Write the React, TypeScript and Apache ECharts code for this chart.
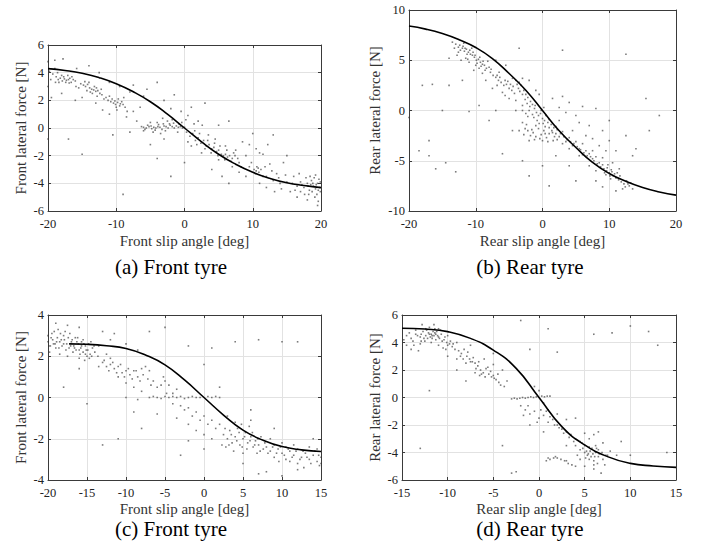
import React, { useEffect, useRef } from "react";
import * as echarts from "echarts";

// ---------- data ----------
const curveA: number[][] = [[-20,4.29],[-17.5,4.16],[-15,3.96],[-12.5,3.64],[-10,3.2],[-7.5,2.62],[-5,1.9],[-2.5,1.0],[0,0],[2.5,-1.0],[5,-1.9],[7.5,-2.62],[10,-3.2],[12.5,-3.64],[15,-3.96],[17.5,-4.16],[20,-4.31]];
const curveB: number[][] = [[-20,8.4],[-17.5,8.1],[-15,7.66],[-12.5,7.05],[-10,6.27],[-7.5,5.17],[-5,3.68],[-2.5,2.02],[0,0],[2.5,-2.02],[5,-3.68],[7.5,-5.17],[10,-6.27],[12.5,-7.05],[15,-7.66],[17.5,-8.1],[20,-8.42]];
const curveC: number[][] = [[-17.3,2.6],[-15,2.58],[-12.5,2.51],[-10,2.38],[-7.5,2.06],[-5,1.58],[-2.5,0.85],[0,0],[2.5,-0.85],[5,-1.58],[7.5,-2.06],[10,-2.38],[12.5,-2.54],[15,-2.62]];
const curveD: number[][] = [[-15,5.04],[-12.5,4.98],[-10,4.79],[-7.5,4.3],[-5,3.45],[-2.5,2.12],[0,0],[2.5,-2.12],[5,-3.45],[7.5,-4.3],[10,-4.79],[12.5,-4.98],[15,-5.08]];

const scatterA: number[][] = [
[-18.8,3.7],[-18.5,3.5],[-18.2,3.6],[-17.9,3.4],[-17.6,3.55],[-17.3,3.45],[-17.0,3.5],[-16.8,3.6],[-16.5,3.7],[-16.3,3.5],[-17.4,3.3],[-18.0,3.8],[-16.9,3.25],[-19.3,3.9],[-19.6,3.5],[-18.6,4.0],
[-18.4,3.3],[-17.7,3.7],[-17.1,3.8],[-16.6,3.3],[-18.9,3.3],[-19.8,4.1],[-19.0,4.3],[-16.0,3.4],[-15.9,3.0],
[-15.2,3.2],[-14.8,3.1],[-14.5,3.0],[-14.2,3.15],[-13.9,2.9],[-13.6,2.8],[-13.3,2.75],[-13.0,2.65],[-12.7,2.7],[-12.4,2.5],[-14.0,3.3],[-13.5,2.5],[-15.5,2.9],[-12.1,2.4],[-12.8,2.3],
[-14.6,3.35],[-13.8,2.6],[-13.2,3.0],[-12.9,2.9],[-12.2,2.8],[-11.8,2.1],[-14.3,2.7],
[-11.5,2.2],[-11.2,2.0],[-10.8,1.9],[-10.4,1.8],[-10.1,1.7],[-9.8,1.85],[-9.5,1.6],[-9.2,1.9],[-10.0,1.5],[-9.0,1.7],[-11.0,2.3],[-8.7,1.5],[-9.7,2.1],
[-10.6,2.1],[-10.2,1.95],[-9.4,1.75],[-9.9,1.3],[-8.9,2.2],[-8.4,1.2],
[-20,4.8],[-19,4.9],[-17.8,5.0],[-15.8,4.3],[-14.0,4.5],[-12.5,4.0],[-11.0,3.3],[-9.5,3.0],[-8.0,2.6],[-7.5,3.1],[-6.0,2.3],[-5.5,2.8],[-4.0,3.3],[-3.0,2.0],[-2.0,1.4],[-1.5,2.4],[-0.5,1.2],[0.5,0.9],[1.0,1.5],[2.0,0.5],[3.0,1.8],[1.5,-0.2],
[-20,3.0],[-19.5,2.2],[-18.0,2.5],[-16.0,2.0],[-15.0,2.2],[-13.0,1.8],[-12.0,1.3],[-11.0,1.0],[-8.5,0.8],[-7.5,1.2],[-7.0,0.5],[-6.5,1.5],[-20,-0.8],[-17,-0.8],[-15,-1.9],[-10.5,-0.5],[-8.0,-0.3],[-9,-4.8],[-5,-1.2],[-4,-2.2],[-2,-3.5],[0,-2.5],[-3.0,-0.8],[-6,-0.2],
[-6.0,0.05],[-5.6,0.0],[-5.2,0.1],[-4.8,-0.05],[-4.5,0.05],[-4.2,0.0],[-3.9,0.1],[-3.6,0.05],[-3.3,-0.1],[-3.0,0.15],[-2.7,0.1],[-2.4,0.0],[-2.1,0.2],[-1.8,0.1],[-1.5,0.0],[-1.2,0.15],[-0.9,0.05],[-0.6,0.1],[-0.3,0.0],[0.0,0.05],[-4.0,0.4],[-3.5,-0.4],[-2.5,0.5],[-1.0,-0.3],[-5.0,0.4],[-3.2,0.7],[-1.8,0.6],[-4.6,-0.3],
[-5.8,-0.1],[-5.4,0.2],[-4.9,0.15],[-4.3,-0.15],[-3.8,0.25],[-3.1,0.3],[-2.8,-0.2],[-2.2,0.3],[-1.6,0.35],[-0.8,0.3],[-0.4,0.4],[0.2,0.6],[-6.3,0.1],
[0.3,-0.3],[0.8,-0.6],[1.2,-0.4],[1.6,-0.9],[2.0,-0.7],[2.4,-1.1],[2.8,-0.9],[3.2,-1.3],[3.6,-1.2],[4.0,-1.5],[4.3,-1.4],[4.7,-1.7],[5.0,-1.6],[5.4,-1.9],[5.7,-2.0],[6.0,-1.9],[6.3,-2.1],[6.6,-2.0],[7.0,-2.2],[7.4,-2.0],[3.5,-0.5],[4.5,-0.8],[5.0,-2.3],[2.5,-1.8],[1.0,-1.3],[6.0,-1.3],[7.5,-1.6],[8.0,-2.5],
[1.8,-1.2],[2.2,-0.4],[3.0,-1.5],[3.4,-0.9],[3.9,-1.8],[4.4,-1.1],[4.9,-2.0],[5.2,-1.3],[5.9,-2.3],[6.2,-1.6],[6.8,-2.4],[7.2,-1.8],[7.8,-2.2],[8.3,-2.8],[0.5,-1.0],[1.4,0.3],[2.6,0.2],
[8.5,-1.0],[9.0,-2.0],[9.5,-2.8],[10.2,-3.0],[10.5,-3.1],[10.8,-2.9],[11.2,-3.0],[10.6,-2.8],[11.0,-1.8],[11.5,-1.9],[12.0,-3.5],[12.5,-2.6],[13.0,-3.8],[13.5,-3.3],[14.0,-4.0],[14.5,-2.5],[15.0,-3.9],[15.5,-4.6],[16.0,-3.5],[16.5,-4.2],[17.0,-3.9],[12.0,-4.3],[11.0,-4.0],[9.0,-3.5],[8.0,-3.2],[7.0,-2.8],[10.0,-0.4],[5.5,-3.5],[6.5,-4.0],[4.0,-3.0],[13.0,-0.5],[15.0,-2.0],[16.5,-5.0],[6.5,0.5],[5.0,0.2],[10.5,-1.5],
[10.4,-3.3],[10.9,-3.2],[9.8,-2.5],[11.8,-2.8],[12.8,-3.1],[13.8,-3.6],[14.8,-3.4],[15.8,-4.0],[16.2,-4.5],[17.0,-4.6],[16.8,-3.3],[14.2,-4.4],[13.2,-4.6],[11.5,-3.5],[9.5,-1.2],[12.2,-1.2],
[17.5,-4.3],[18.0,-4.0],[18.3,-4.5],[18.6,-3.8],[18.9,-4.2],[19.2,-4.4],[19.5,-4.0],[19.8,-4.3],[19.0,-3.6],[19.4,-4.8],[19.7,-3.7],[18.2,-4.8],[17.8,-3.6],[19.1,-5.0],[19.9,-4.6],[18.7,-4.6],[17.2,-4.1],[19.6,-5.3],
[18.1,-4.2],[18.5,-4.1],[18.8,-4.0],[19.3,-4.1],[19.6,-4.5],[19.9,-3.9],[18.4,-3.5],[19.2,-3.4],[17.6,-4.8],[19.5,-5.6],[18.0,-5.2]
];

const scatterB: number[][] = [
[-13.0,6.6],[-12.6,6.3],[-12.3,6.0],[-12.0,6.2],[-11.7,5.9],[-11.4,6.1],[-11.1,5.8],[-10.8,5.6],[-10.5,5.5],[-10.2,5.3],[-9.9,5.0],[-9.6,5.1],[-9.3,4.8],[-9.0,4.6],[-8.7,4.5],[-8.4,4.2],[-12.8,5.5],[-11.5,5.2],[-10.0,4.5],[-11.8,6.7],[-10.6,6.2],[-9.5,4.2],[-8.2,4.9],[-13.5,6.8],[-12.2,5.0],[-11.0,4.8],[-10.3,4.0],[-9.0,3.7],
[-12.4,6.5],[-11.9,6.4],[-11.6,6.2],[-11.3,5.6],[-10.9,6.0],[-10.4,5.8],[-10.1,5.5],[-9.8,4.7],[-9.4,5.3],[-9.2,4.4],[-8.9,4.9],[-8.6,4.0],[-8.0,4.3],[-7.7,4.1],[-12.6,5.8],[-11.2,5.1],[-13.2,6.2],
[-7.8,3.8],[-7.4,3.5],[-7.0,3.3],[-6.6,3.0],[-6.2,2.8],[-5.8,2.5],[-5.4,2.6],[-5.0,2.2],[-4.6,2.0],[-4.2,1.7],[-3.8,2.6],[-3.5,2.8],[-3.2,2.5],[-2.8,2.0],[-2.5,1.6],[-2.2,1.3],[-1.8,0.9],[-1.5,0.6],[-6.0,1.8],[-5.0,1.2],[-4.0,1.0],[-3.0,0.5],[-7.5,2.2],[-8.5,3.0],[-6.5,3.8],[-4.5,3.2],[-2.0,3.0],[-1.0,2.0],[-0.5,1.6],
[-6.8,3.5],[-6.4,3.3],[-5.6,3.0],[-5.2,2.9],[-4.8,2.6],[-4.4,2.4],[-3.6,2.2],[-3.4,1.9],[-3.0,1.6],[-2.6,1.1],[-2.3,0.7],[-1.9,0.4],[-4.0,3.0],[-3.0,3.2],[-6.8,2.5],[-5.6,1.5],
[-1.2,0.2],[-0.9,-0.2],[-0.6,-0.5],[-0.3,-0.3],[0.0,-0.8],[0.3,-1.0],[-1.5,-0.4],[-0.8,-1.0],[0.5,-0.5],[-2.0,0.0],[-3.0,0.0],[-4.0,0.0],[-2.5,-0.3],[0.2,0.3],[1.0,-0.9],
[-1.3,-0.7],[-0.5,-1.3],[0.1,-1.3],[0.4,-1.6],[0.8,-1.2],[-1.1,0.5],[-0.2,0.0],[-2.2,-0.6],
[-3.0,-1.2],[-2.6,-1.8],[-2.2,-2.0],[-1.8,-2.5],[-1.4,-2.2],[-1.0,-2.6],[-0.6,-1.8],[-0.2,-2.4],[0.2,-2.0],[0.6,-2.7],[1.0,-2.3],[1.4,-2.0],[1.8,-2.6],[2.2,-2.9],[-2.0,-3.0],[-1.0,-1.5],[0.0,-3.0],[-3.5,-2.0],
[-2.8,-2.4],[-2.4,-1.4],[-1.6,-1.9],[-1.2,-2.9],[-0.4,-2.8],[0.4,-2.3],[0.8,-3.1],[1.6,-3.0],[2.0,-2.3],
[1.3,-1.4],[1.7,-1.7],[2.2,-1.9],[2.7,-2.3],[3.2,-2.6],[3.7,-2.9],[4.2,-3.1],[4.7,-3.3],[5.2,-3.6],[5.7,-3.9],[6.2,-4.2],[6.7,-4.5],[7.2,-4.6],[7.7,-5.0],[8.2,-5.3],[8.7,-5.6],[9.2,-5.8],[9.6,-6.0],[10.0,-6.2],[10.3,-5.9],[10.6,-6.5],[11.0,-6.7],[11.4,-6.9],[11.8,-7.1],[12.2,-7.3],[12.6,-7.0],[13.0,-7.5],[13.5,-7.8],[9.8,-5.4],[10.2,-6.8],[9.5,-6.4],[11.2,-6.2],[12.0,-7.8],[3.0,-3.3],[4.0,-3.8],[5.5,-4.5],[7.0,-5.5],[8.0,-6.0],[6.0,-3.3],[7.5,-4.0],[9.0,-4.7],[10.5,-5.2],[11.5,-5.8],
[1.0,-1.7],[1.5,-2.2],[2.0,-1.6],[2.5,-2.6],[3.0,-2.1],[3.5,-3.1],[4.0,-2.7],[4.5,-3.5],[5.0,-3.1],[5.5,-3.8],[6.0,-4.4],[6.5,-4.0],[7.0,-4.3],[7.5,-4.8],[8.0,-4.6],[8.5,-5.2],[9.0,-5.4],[9.3,-6.2],[9.7,-5.7],[10.1,-6.5],[10.4,-6.1],[10.8,-6.3],[11.6,-6.5],[12.4,-7.6],[12.8,-7.3],[13.2,-7.2],
[1.5,1.2],[2.5,0.3],[3.0,1.4],[4.0,0.8],[5.0,-0.5],[6.0,0.4],[7.0,-1.5],[8.0,0.2],[9.0,-2.0],[10.0,-3.0],[11.0,-4.0],[12.5,-2.5],[14.0,-3.8],[15.5,1.2],[17.5,-0.5],[16.0,-2.0],[12.5,5.6],[2.5,-1.0],[4.5,-2.0],[6.5,-2.5],[8.5,-3.5],[3.5,-0.2],[5.5,-1.2],[7.5,-2.8],[10.0,-1.0],[9.5,-4.0],[13.5,-4.5],
[-18.0,2.5],[-16.5,2.6],[-14.0,2.5],[-17.0,-3.0],[-17.0,-4.5],[-20.0,-0.7],[-15.0,0.0],[-13.0,-6.1],[-16.0,-5.8],[-14.5,-5.2],[-18.5,-4.0],[-11.0,-0.1],[-7.0,0.0],[-12.0,3.0],[-14.0,5.2],[-6.0,-4.3],[-3.0,-5.0],[-2.0,-6.5],[0.0,-5.5],[-4.5,-2.0],[-8.0,-1.0],[-9.5,0.5],[-3.5,6.2],[-5.5,4.5],[-7.0,5.0],[3.0,6.0],
[2.0,-4.5],[4.0,-5.5],[1.0,-7.5],[5.0,-7.0],[8.0,-7.0],[9.0,-7.6],[11.0,-8.0]
];

const scatterC: number[][] = [
[-20.0,2.7],[-19.7,2.5],[-19.4,2.8],[-19.1,2.6],[-18.8,2.9],[-18.5,2.7],[-18.2,2.5],[-17.9,2.8],[-17.6,2.6],[-17.3,2.4],[-17.0,2.7],[-16.7,2.5],[-16.4,2.3],[-16.1,2.6],[-15.8,2.4],[-15.5,2.2],[-15.2,2.5],[-14.9,2.3],[-14.6,2.1],[-14.3,2.4],[-14.0,2.2],[-13.6,2.0],[-19.5,3.1],[-18.7,3.3],[-18.0,3.0],[-17.2,3.1],[-16.5,2.9],[-15.7,2.7],[-15.0,2.0],[-16.0,1.9],[-19.8,2.2],[-18.5,2.1],[-17.5,2.0],[-15.5,2.8],[-14.5,2.7],[-13.5,2.5],[-20.0,3.0],[-19.0,2.4],[-16.8,2.2],[-15.3,1.8],
[-19.9,2.5],[-19.6,2.9],[-19.3,2.6],[-18.9,2.7],[-18.6,2.4],[-18.3,2.8],[-18.0,2.6],[-17.7,2.3],[-17.4,2.9],[-17.1,2.5],[-16.9,2.8],[-16.6,2.4],[-16.3,2.7],[-16.0,2.3],[-15.7,2.5],[-15.4,2.6],[-15.1,2.3],[-14.8,2.6],[-14.4,2.0],[-14.1,2.5],[-15.9,2.1],[-15.2,2.1],[-16.2,2.9],[-19.2,3.2],[-18.4,3.1],[-17.8,3.2],[-14.7,1.9],
[-19,3.6],[-17.5,3.5],[-16,3.4],[-13,3.2],[-12,2.8],[-11.5,3.1],[-10,2.6],[-8.5,2.3],[-5,3.4],[-2,2.5],[0,1.6],[1,2.4],[2,0.5],[10,2.7],[12,2.7],[7,2.8],[4,2.7],[-7,3.2],[-12.5,2.1],
[-13.0,1.7],[-12.5,1.5],[-12.0,1.6],[-11.5,1.4],[-11.0,1.5],[-10.5,1.2],[-10.0,1.3],[-9.5,1.1],[-9.0,1.3],[-8.5,1.0],[-8.0,1.4],[-7.5,1.5],[-7.0,1.3],[-11.0,1.0],[-10.0,0.7],[-9.0,0.5],[-8.0,0.3],[-12.0,1.9],[-6.5,0.8],[-6.0,0.5],[-5.5,0.6],[-5.0,0.8],[-4.5,0.6],[-4.0,0.2],[-3.5,0.4],[-4.8,0.2],[-5.2,1.0],
[-12.8,1.8],[-12.2,1.3],[-11.7,1.7],[-11.2,1.2],[-10.7,1.6],[-10.2,1.0],[-9.7,1.4],[-9.2,0.9],[-8.7,1.3],[-8.2,0.8],[-7.8,1.1],[-7.2,0.9],[-6.8,0.6],[-13.5,1.5],
[-7.0,0.0],[-6.5,0.05],[-6.0,0.0],[-5.5,-0.05],[-5.0,0.05],[-4.5,0.0],[-4.0,0.05],[-3.5,0.0],[-3.0,0.05],[-2.5,-0.05],[-2.0,0.0],[-1.5,0.05],[-1.0,0.0],[-0.5,0.0],[0.5,0.05],[1.0,0.0],[1.5,0.05],[2.0,0.0],[-10,0.0],[-8.5,-0.1],
[-3.0,-0.4],[-2.5,-0.6],[-2.0,-0.5],[-1.5,-0.9],[-1.0,-0.7],[-0.5,-1.1],[0.0,-0.9],[0.5,-1.3],[1.0,-1.1],[1.5,-1.5],[2.0,-1.3],[-2.0,-1.3],[-1.0,-1.6],[0.0,-1.8],[1.0,-2.0],[-4.0,-0.3],[-3.5,-1.0],
[2.5,-1.8],[3.0,-2.0],[3.3,-1.6],[3.6,-2.2],[4.0,-1.9],[4.3,-1.5],[4.6,-2.3],[5.0,-2.0],[5.3,-1.7],[5.6,-2.2],[6.0,-1.9],[6.3,-2.4],[6.6,-2.1],[7.0,-2.3],[7.3,-1.9],[7.6,-2.5],[2.8,-2.4],[3.8,-2.6],[4.8,-1.3],[5.8,-1.4],[6.8,-2.7],[2.3,-2.3],[5.0,-2.7],[4.0,-1.2],[6.0,-1.1],
[2.7,-1.5],[3.2,-2.3],[3.5,-1.8],[4.2,-2.1],[4.5,-1.7],[4.9,-2.4],[5.2,-1.9],[5.5,-2.5],[5.9,-2.1],[6.2,-1.7],[6.5,-2.3],[6.9,-2.0],[7.2,-2.6],[7.8,-2.2],
[8.0,-2.4],[8.5,-2.6],[9.0,-2.3],[9.5,-2.5],[10.0,-2.7],[10.5,-2.4],[11.0,-2.6],[11.5,-2.8],[12.0,-2.5],[12.5,-2.9],[13.0,-2.7],[13.5,-3.0],[14.0,-2.8],[14.5,-3.1],[15.0,-2.9],[9.0,-2.9],[10.0,-2.2],[11.0,-3.1],[12.0,-3.2],[13.5,-2.4],[14.5,-2.5],[8.5,-2.0],[10.5,-3.0],[12.8,-3.4],[14.8,-3.3],
[8.2,-2.7],[8.8,-2.4],[9.3,-2.7],[9.8,-2.4],[10.3,-2.8],[10.8,-2.5],[11.3,-2.9],[11.8,-2.6],[12.3,-3.0],[12.7,-2.6],[13.2,-2.9],[13.7,-3.2],[14.2,-2.6],[14.7,-2.8],[15.0,-3.2],[11.5,-2.3],[9.6,-3.1],
[-13,-2.3],[0,-2.5],[-2,-2.1],[7,-3.7],[8,-3.6],[10,-3.8],[12,-3.5],[5,-3.2],[-3,-2.8],[-8,-1.5],[-15,-0.3],[-18,0.5],[-11,-2.0],[-9,-0.7],[-16,1.4],[14,-2.0],[9,-1.5],[6,-0.6],[3,-0.9],[-6,-0.8]
];

const scatterD: number[][] = [
[-14.5,4.5],[-14.0,4.3],[-13.5,4.6],[-13.0,4.4],[-12.7,4.8],[-12.4,4.5],[-12.1,4.7],[-11.8,4.6],[-11.5,4.5],[-11.2,4.8],[-11.0,4.4],[-10.7,4.6],[-10.4,4.2],[-10.1,4.0],[-9.8,3.9],[-9.5,3.7],[-12.0,5.1],[-11.5,5.3],[-11.0,5.0],[-12.5,4.1],[-13.0,3.9],[-11.8,4.0],[-10.5,3.6],[-9.2,3.5],[-14.0,3.5],[-13.5,4.9],[-12.2,4.3],[-11.3,4.2],[-10.8,4.9],[-10.0,4.5],[-12.8,5.3],[-14.5,3.8],[-13.2,3.4],[-9.0,4.0],[-11.6,4.8],[-11.9,4.4],
[-14.8,4.2],[-14.2,4.7],[-13.8,4.1],[-13.3,4.5],[-12.9,4.6],[-12.6,4.3],[-12.3,4.9],[-12.0,4.6],[-11.7,4.3],[-11.4,4.7],[-11.1,4.5],[-10.9,4.3],[-10.6,4.1],[-10.3,4.4],[-10.0,3.8],[-9.7,4.1],[-9.4,3.9],[-11.4,5.0],[-12.4,5.0],[-13.7,3.8],[-10.2,3.5],[-11.0,3.8],[-12.9,4.1],[-11.7,4.5],[-11.3,4.6],
[-8.8,3.4],[-8.5,3.2],[-8.2,3.5],[-7.9,3.0],[-7.6,2.8],[-7.3,2.6],[-7.0,2.5],[-6.7,2.3],[-6.4,2.0],[-6.1,1.8],[-5.8,2.1],[-5.5,1.7],[-5.2,1.5],[-5.0,1.6],[-4.7,1.3],[-4.4,1.1],[-7.0,1.8],[-6.5,1.6],[-8.0,2.5],[-6.0,2.8],[-5.0,2.4],[-4.0,2.0],[-3.5,1.2],[-9.0,2.8],[-7.5,3.8],
[-8.6,3.0],[-8.3,2.8],[-7.8,3.3],[-7.5,2.6],[-7.2,2.9],[-6.9,2.1],[-6.6,2.6],[-6.3,1.7],[-5.9,1.5],[-5.6,2.2],[-5.3,1.9],[-4.9,1.4],[-4.5,1.7],[-4.2,0.9],[-3.8,0.8],
[-3.0,-0.1],[-2.7,-0.05],[-2.4,-0.1],[-2.1,-0.05],[-1.8,0.0],[-1.5,-0.05],[-1.2,0.0],[-0.9,0.05],[-0.6,0.0],[-0.3,0.05],[0.3,0.1],[0.6,0.05],[0.9,0.1],[1.2,0.1],
[-2.0,-0.6],[-1.5,-0.9],[-1.0,-1.2],[-0.5,-1.0],[0.0,-1.5],[0.5,-1.3],[1.0,-1.8],[1.5,-1.6],[2.0,-2.0],[2.5,-2.3],[3.0,-2.5],[3.5,-2.7],[4.0,-3.0],[4.5,-3.2],[0.0,0.5],[0.5,-0.4],[1.0,-0.9],[2.0,-1.2],[3.0,-1.6],[-1.0,-2.0],[0.5,-2.5],[-0.5,0.8],
[4.5,-3.8],[5.0,-4.0],[5.3,-4.2],[5.6,-3.9],[5.9,-4.1],[6.2,-4.0],[6.5,-3.8],[5.0,-3.5],[5.5,-4.5],[6.0,-4.6],[6.5,-4.3],[7.0,-4.5],[7.5,-4.2],[4.0,-3.5],[4.5,-4.5],[5.0,-5.0],[6.0,-5.2],[6.8,-5.5],[7.2,-4.9],[5.5,-3.0],[6.0,-2.7],[6.5,-2.5],[5.0,-2.6],[7.0,-3.3],[7.8,-3.9],[8.5,-4.2],[6.2,-3.5],[4.2,-4.2],
[4.8,-3.7],[5.2,-3.9],[5.4,-4.1],[5.7,-4.3],[5.8,-3.7],[6.1,-4.3],[6.3,-3.7],[6.6,-4.1],[6.9,-4.0],[5.1,-4.4],[5.5,-3.6],[6.0,-4.9],[6.4,-4.8],[7.3,-4.2],[4.7,-3.3],[3.8,-3.2],[3.3,-2.9],[2.7,-2.6],[2.2,-2.2],[1.7,-2.0],[1.2,-1.4],[0.8,-1.0],[0.2,-0.9],[-0.2,-1.8],[-1.2,-0.6],[-1.7,-1.3],
[0.8,-4.6],[1.2,-4.5],[1.6,-4.4],[2.0,-4.4],[2.4,-4.5],[2.8,-4.6],[3.2,-4.8],[3.6,-4.9],[4.0,-5.0],[1.0,-4.4],[1.8,-4.3],[3.0,-4.6],
[-12,0.5],[-4,-3.5],[-3,-5.5],[-2.5,-5.4],[10,5.2],[12,4.8],[14,-4.0],[13,3.8],[8,4.7],[6,4.6],[-2,5.6],[-1,3.5],[2,3.3],[-13,-3.7],[-5,3.2],[-8,1.2],[9,-3.2],[10,-4.2],[1,5.0],[-9,2.0],[-10,3.0],[3,-3.5],[4,-1.5]
];

// axis ranges [min, max, interval]
const xRangeA = [-20, 20, 10];
const yRangeA = [-6, 6, 2];
const xRangeB = [-20, 20, 10];
const yRangeB = [-10, 10, 5];
const xRangeC = [-20, 15, 5];
const yRangeC = [-4, 4, 2];
const xRangeD = [-15, 15, 5];
const yRangeD = [-6, 6, 2];

const xNames = ["Front slip angle [deg]", "Rear slip angle [deg]", "Front slip angle [deg]", "Rear slip angle [deg]"];
const yNames = ["Front lateral force [N]", "Rear lateral force [N]", "Front lateral force [N]", "Rear lateral force [N]"];
const captions = ["(a) Front tyre", "(b) Rear tyre", "(c) Front tyre", "(d) Rear tyre"];

const FONT = "Liberation Serif";

export default function App() {
  const ref = useRef<HTMLDivElement>(null);
  useEffect(() => {
    document.body.style.margin = "0";
    if (!ref.current) return;
    const chart = echarts.init(ref.current, null, { renderer: "svg" });

    const grids = [
      { left: 48, top: 45, width: 273, height: 166 },
      { left: 409, top: 10, width: 267, height: 201 },
      { left: 48, top: 315, width: 273, height: 165 },
      { left: 402, top: 315, width: 274, height: 165 },
    ];
    const xr = [xRangeA, xRangeB, xRangeC, xRangeD];
    const yr = [yRangeA, yRangeB, yRangeC, yRangeD];
    const yGaps = [20, 27, 20, 20];
    const xGaps = [22, 22, 21, 21];
    const scat = [scatterA, scatterB, scatterC, scatterD];
    const curves = [curveA, curveB, curveC, curveD];
    const capPos = [[171, 267], [530, 267], [171, 529], [530, 529]];

    const lineCol = "#3a3a3a";
    const xAxis: any[] = [];
    const yAxis: any[] = [];
    const series: any[] = [];
    for (let i = 0; i < 4; i++) {
      const common = (r: number[]) => ({
        type: "value", min: r[0], max: r[1], interval: r[2], gridIndex: i,
        axisLine: { show: true, onZero: false, lineStyle: { color: lineCol, width: 1 } },
        axisTick: { show: true, inside: true, length: 3, lineStyle: { color: lineCol } },
      });
      xAxis.push({
        ...common(xr[i]), position: "bottom",
        axisLabel: { color: "#222", fontFamily: FONT, fontSize: 12.5, margin: 6 },
        splitLine: { show: true, lineStyle: { color: "#e2e2e2", width: 1 } },
        name: xNames[i], nameLocation: "middle", nameGap: xGaps[i],
        nameTextStyle: { color: "#333", fontFamily: FONT, fontSize: 15 },
      });
      xAxis.push({ ...common(xr[i]), position: "top", axisLabel: { show: false }, splitLine: { show: false } });
      yAxis.push({
        ...common(yr[i]), position: "left",
        axisLabel: { color: "#222", fontFamily: FONT, fontSize: 12.5, margin: 4 },
        splitLine: { show: true, lineStyle: { color: "#e2e2e2", width: 1 } },
        name: yNames[i], nameLocation: "middle", nameGap: yGaps[i],
        nameTextStyle: { color: "#333", fontFamily: FONT, fontSize: 15 },
      });
      yAxis.push({ ...common(yr[i]), position: "right", axisLabel: { show: false }, splitLine: { show: false } });
      series.push({
        type: "scatter", xAxisIndex: 2 * i, yAxisIndex: 2 * i, data: scat[i],
        symbol: "rect", symbolSize: 1.6, itemStyle: { color: "rgba(50,50,50,0.8)" }, silent: true,
      });
      series.push({
        type: "line", xAxisIndex: 2 * i, yAxisIndex: 2 * i, data: curves[i], smooth: true,
        showSymbol: false, symbol: "none", lineStyle: { color: "#000", width: 1.6 }, z: 5, silent: true,
      });
    }

    chart.setOption({
      animation: false,
      backgroundColor: "#fff",
      grid: grids.map((g) => ({ ...g, containLabel: false })),
      xAxis, yAxis, series,
      graphic: captions.map((c, i) => ({
        type: "text", x: capPos[i][0], y: capPos[i][1],
        style: { text: c, fill: "#000", font: `21px '${FONT}'`, textAlign: "center", textVerticalAlign: "middle" },
      })),
    });
    return () => chart.dispose();
  }, []);
  return <div ref={ref} style={{ width: 702, height: 553 }} />;
}
